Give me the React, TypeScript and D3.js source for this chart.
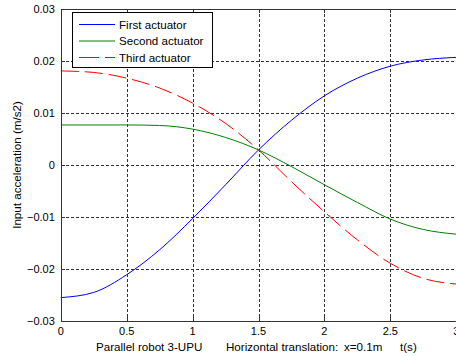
import React from "react";
import * as d3 from "d3";

// values
const time = [0, 0.25, 0.5, 0.75, 1, 1.25, 1.5, 1.75, 2, 2.25, 2.5, 2.75, 3];
const firstActuator = [-0.0255, -0.0245, -0.0211, -0.0163, -0.0103, -0.0038, 0.0029, 0.0086, 0.0133, 0.0167, 0.019, 0.0202, 0.0207];
const secondActuator = [0.0077, 0.0077, 0.0077, 0.0076, 0.0069, 0.0053, 0.0029, -0.0003, -0.0038, -0.0072, -0.0104, -0.0124, -0.0133];
const thirdActuator = [0.0181, 0.0178, 0.0167, 0.0148, 0.0119, 0.008, 0.0029, -0.0032, -0.009, -0.0144, -0.0189, -0.0218, -0.0229];

const xTicks = [0, 0.5, 1, 1.5, 2, 2.5, 3];
const yTicks = [-0.03, -0.02, -0.01, 0, 0.01, 0.02, 0.03];

const seriesNames = ["First actuator", "Second actuator", "Third actuator"];
const seriesColors = ["#0000ff", "#008000", "#ff0000"];

const font = "Arial, 'Liberation Sans', sans-serif";

export default function App() {
  const width = 456;
  const height = 357;
  const margin = { top: 9, right: 0, bottom: 36, left: 61 };

  const x = d3.scaleLinear().domain([0, 3]).range([60.8, 456.2]);
  const y = d3.scaleLinear().domain([-0.03, 0.03]).range([height - margin.bottom, margin.top]);

  const line = d3
    .line<number>()
    .x((_, i) => x(time[i]))
    .y((d) => y(d))
    .curve(d3.curveMonotoneX);

  const series = [firstActuator, secondActuator, thirdActuator];

  const x0 = x(0);
  const x1 = x(3);
  const y0 = y(-0.03);
  const y1 = y(0.03);

  const fmt = (v: number) => (v === 0 ? "0" : d3.format(".2f")(v));

  return (
    <svg
      width={width}
      height={height}
      style={{ position: "absolute", left: 0, top: 0, background: "#fff" }}
      fontFamily={font}
    >
      <rect x={0} y={0} width={width} height={height} fill="#fff" />

      {/* grid */}
      <g stroke="#333" strokeWidth={1} strokeDasharray="3,2" shapeRendering="crispEdges">
        {xTicks.slice(1, -1).map((t) => (
          <line key={"gx" + t} x1={Math.round(x(t)) + 0.5} x2={Math.round(x(t)) + 0.5} y1={y1} y2={y0} />
        ))}
        {yTicks.slice(1, -1).map((t) => (
          <line key={"gy" + t} x1={x0} x2={x1} y1={Math.round(y(t)) + 0.5} y2={Math.round(y(t)) + 0.5} />
        ))}
      </g>

      {/* curves */}
      {series.map((s, i) => (
        <path
          key={seriesNames[i]}
          d={line(s) || ""}
          fill="none"
          stroke={seriesColors[i]}
          strokeWidth={1}
          strokeDasharray={i === 2 ? "18,6" : undefined}
        />
      ))}

      {/* axes box */}
      <g stroke="#333" strokeWidth={1} fill="none" shapeRendering="crispEdges">
        <line x1={Math.round(x0) + 0.5} x2={Math.round(x0) + 0.5} y1={y1} y2={y0} />
        <line x1={x0} x2={x1} y1={Math.round(y0) + 0.5} y2={Math.round(y0) + 0.5} />
        <line x1={x0} x2={x1} y1={Math.round(y1) + 0.5} y2={Math.round(y1) + 0.5} />
        {xTicks.map((t) => (
          <g key={"tx" + t}>
            <line x1={Math.round(x(t)) + 0.5} x2={Math.round(x(t)) + 0.5} y1={y0} y2={y0 - 4} />
            <line x1={Math.round(x(t)) + 0.5} x2={Math.round(x(t)) + 0.5} y1={y1} y2={y1 + 4} />
          </g>
        ))}
        {yTicks.map((t) => (
          <line key={"ty" + t} x1={x0} x2={x0 + 4} y1={Math.round(y(t)) + 0.5} y2={Math.round(y(t)) + 0.5} />
        ))}
      </g>

      {/* tick labels */}
      <g fontSize={11} fill="#000">
        {xTicks.map((t) => (
          <text key={"lx" + t} x={x(t)} y={y0 + 14} textAnchor="middle">
            {String(t)}
          </text>
        ))}
        {yTicks.map((t) => (
          <text key={"ly" + t} x={x0 - 6} y={y(t) + 4} textAnchor="end">
            {fmt(t)}
          </text>
        ))}
      </g>

      {/* axis labels */}
      <g fontSize={11.6} fill="#000">
        <text x={96} y={351}>Parallel robot 3-UPU</text>
        <text x={226} y={351}>Horizontal translation:</text>
        <text x={344} y={351}>x=0.1m</text>
        <text x={400} y={351}>t(s)</text>
        <text transform={`translate(21,${(y0 + y1) / 2}) rotate(-90)`} textAnchor="middle">
          Input acceleration (m/s2)
        </text>
      </g>

      {/* legend */}
      <g>
        <rect x={72.5} y={12.5} width={140} height={55} fill="#fff" stroke="#000" strokeWidth={1} />
        {seriesNames.map((name, i) => (
          <g key={"lg" + name} transform={`translate(0,${24 + i * 16.5})`}>
            <line
              x1={79}
              x2={115}
              y1={0.5}
              y2={0.5}
              stroke={seriesColors[i]}
              strokeWidth={1}
              strokeDasharray={i === 2 ? "20,6" : undefined}
            />
            <text x={119} y={4.5} fontSize={11.6} fill="#000">
              {name}
            </text>
          </g>
        ))}
      </g>
    </svg>
  );
}
